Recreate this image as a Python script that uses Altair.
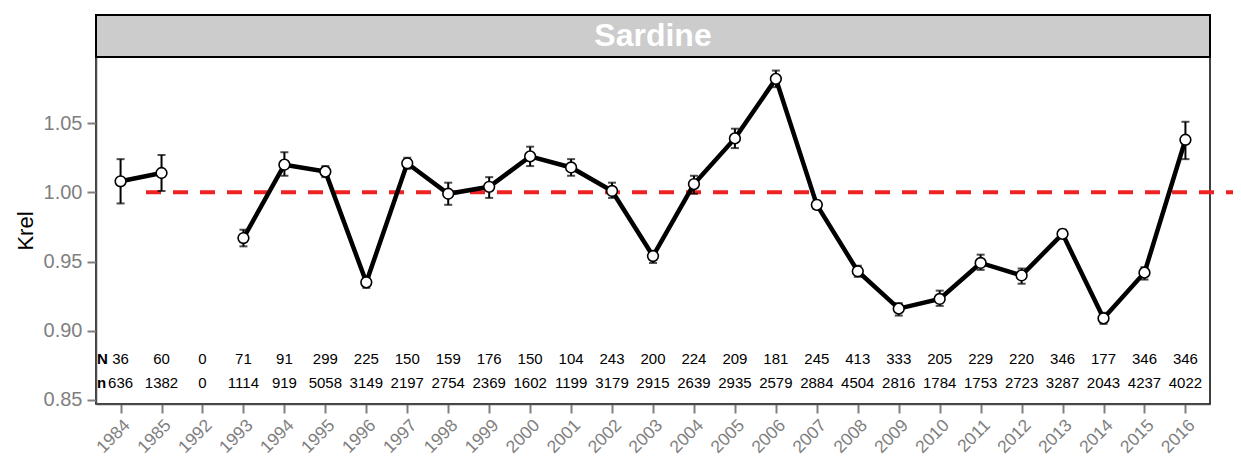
import altair as alt
import pandas as pd

years = ["1984", "1985", "1992", "1993", "1994", "1995", "1996", "1997", "1998", "1999",
         "2000", "2001", "2002", "2003", "2004", "2005", "2006", "2007", "2008", "2009",
         "2010", "2011", "2012", "2013", "2014", "2015", "2016"]
krel = [1.008, 1.014, None, 0.967, 1.020, 1.015, 0.935, 1.021, 0.999, 1.004,
        1.026, 1.018, 1.001, 0.954, 1.006, 1.039, 1.082, 0.991, 0.943, 0.916,
        0.923, 0.949, 0.940, 0.970, 0.909, 0.942, 1.038]
lower = [0.992, 1.001, None, 0.961, 1.012, 1.011, 0.931, 1.017, 0.991, 0.996,
         1.019, 1.012, 0.996, 0.949, 0.999, 1.032, 1.076, 0.988, 0.939, 0.911,
         0.918, 0.944, 0.934, 0.967, 0.905, 0.937, 1.024]
upper = [1.024, 1.027, None, 0.973, 1.029, 1.019, 0.939, 1.025, 1.007, 1.011,
         1.033, 1.024, 1.007, 0.957, 1.012, 1.046, 1.088, 0.994, 0.947, 0.920,
         0.929, 0.955, 0.945, 0.973, 0.913, 0.946, 1.051]
N_fish = [36, 60, 0, 71, 91, 299, 225, 150, 159, 176, 150, 104, 243, 200, 224, 209,
          181, 245, 413, 333, 205, 229, 220, 346, 177, 346, 346]
n_fish = [636, 1382, 0, 1114, 919, 5058, 3149, 2197, 2754, 2369, 1602, 1199, 3179,
          2915, 2639, 2935, 2579, 2884, 4504, 2816, 1784, 1753, 2723, 3287, 2043,
          4237, 4022]
species = "Sardine"
ref_value = 1.0
N_row_y = 0.8796
n_row_y = 0.8622

seg = []
s = 0
for v in krel:
    if v is None:
        s += 1
    seg.append(s)

df = pd.DataFrame({"year": years, "krel": krel, "lower": lower, "upper": upper,
                   "N": N_fish, "n": n_fish, "seg": seg})
valid = df.dropna(subset=["krel"])

W, H = 1114, 347
FONT = "Liberation Sans"

xenc = alt.X("year:N", sort=years,
             scale=alt.Scale(type="point", domain=years, padding=0.6),
             axis=alt.Axis(title=None, labelAngle=315, labelAlign="right",
                           labelBaseline="top", labelFontSize=17.5, labelPadding=3))
yscale = alt.Scale(domain=[0.8471, 1.0978], nice=False, zero=False)
yenc = alt.Y("krel:Q", scale=yscale,
             axis=alt.Axis(title="Krel", values=[0.85, 0.90, 0.95, 1.00, 1.05],
                           format=".2f", labelFontSize=20, labelPadding=5,
                           titleFontSize=22, titleFontWeight="normal",
                           titleColor="black", titlePadding=6))

base = alt.Chart(valid)

refline = alt.Chart(pd.DataFrame({"r": [ref_value]})).mark_rule(
    color="#EE2222", strokeWidth=4, strokeDash=[15, 12]
).encode(y=alt.Y("r:Q", scale=yscale), x=alt.value(50), x2=alt.value(1137))

line = base.mark_line(color="black", strokeWidth=4.5).encode(
    x=xenc, y=yenc, detail="seg:N")

err = base.mark_rule(color="black", strokeWidth=2).encode(
    x=xenc, y=alt.Y("lower:Q", scale=yscale), y2="upper:Q")
cap_lo = base.mark_tick(color="black", thickness=2, size=8).encode(
    x=xenc, y=alt.Y("lower:Q", scale=yscale))
cap_hi = base.mark_tick(color="black", thickness=2, size=8).encode(
    x=xenc, y=alt.Y("upper:Q", scale=yscale))

pts = base.mark_point(shape="circle", filled=True, fill="white", stroke="black",
                      strokeWidth=1.6, size=115, opacity=1).encode(x=xenc, y=yenc)

txtN = alt.Chart(df).mark_text(fontSize=15, font=FONT, color="black").encode(
    x=xenc, y=alt.datum(N_row_y, scale=yscale), text="N:Q")
txtn = alt.Chart(df).mark_text(fontSize=15, font=FONT, color="black").encode(
    x=xenc, y=alt.datum(n_row_y, scale=yscale), text="n:Q")

lab = alt.Chart(pd.DataFrame({"lab": ["N", "n"], "yy": [N_row_y, n_row_y]})).mark_text(
    fontSize=15, font=FONT, fontWeight="bold", color="black", align="left"
).encode(x=alt.value(1), y=alt.Y("yy:Q", scale=yscale), text="lab:N")

strip_df = pd.DataFrame({"t": [species]})
strip = alt.Chart(strip_df).mark_rect(fill="#CCCCCC", stroke="black", strokeWidth=2).encode(
    x=alt.value(0), x2=alt.value(W), y=alt.value(-42), y2=alt.value(0))
strip_txt = alt.Chart(strip_df).mark_text(
    fontSize=32, font=FONT, fontWeight="bold", color="white", baseline="middle"
).encode(x=alt.value(W / 2), y=alt.value(-21), text="t:N")

chart = alt.layer(refline, line, err, cap_lo, cap_hi, pts, txtN, txtn, lab, strip, strip_txt).properties(
    width=W, height=H, autosize="none",
    padding={"left": 88, "top": 49, "right": 23, "bottom": 52},
).configure_view(stroke="black", strokeWidth=1.5).configure_axis(
    grid=False, labelColor="#7F7F7F", labelFont=FONT, titleFont=FONT,
    tickColor="#7F7F7F", tickSize=9, tickWidth=2,
    domainColor="#4D4D4D", domainWidth=1.5,
)

chart.save("out.html", embed_options={"renderer": "svg", "actions": False})
